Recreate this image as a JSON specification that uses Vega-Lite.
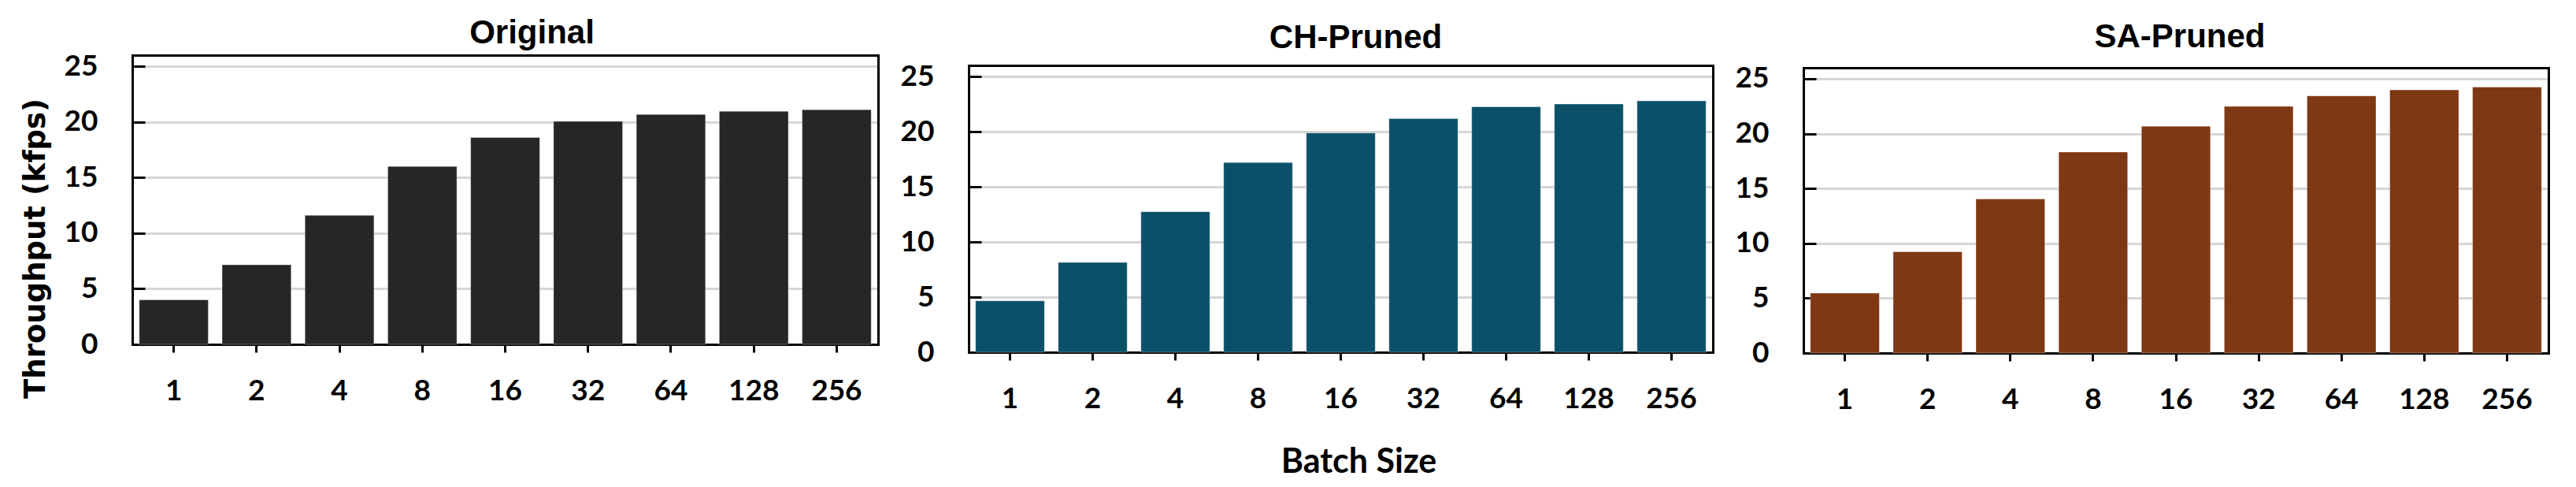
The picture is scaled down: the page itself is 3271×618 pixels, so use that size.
{
  "$schema": "https://vega.github.io/schema/vega-lite/v6.json",
  "background": "white",
  "padding": {"left": 26, "top": 21, "right": 10, "bottom": 6},
  "spacing": 28,
  "datasets": {
    "original": [
      {"batch": "1", "throughput": 4.0},
      {"batch": "2", "throughput": 7.15},
      {"batch": "4", "throughput": 11.6},
      {"batch": "8", "throughput": 16.0},
      {"batch": "16", "throughput": 18.6},
      {"batch": "32", "throughput": 20.05},
      {"batch": "64", "throughput": 20.67},
      {"batch": "128", "throughput": 20.95},
      {"batch": "256", "throughput": 21.1}
    ],
    "ch": [
      {"batch": "1", "throughput": 4.66},
      {"batch": "2", "throughput": 8.14},
      {"batch": "4", "throughput": 12.74},
      {"batch": "8", "throughput": 17.2},
      {"batch": "16", "throughput": 19.87},
      {"batch": "32", "throughput": 21.18},
      {"batch": "64", "throughput": 22.25},
      {"batch": "128", "throughput": 22.5},
      {"batch": "256", "throughput": 22.78}
    ],
    "sa": [
      {"batch": "1", "throughput": 5.46},
      {"batch": "2", "throughput": 9.23},
      {"batch": "4", "throughput": 14.04},
      {"batch": "8", "throughput": 18.32},
      {"batch": "16", "throughput": 20.67},
      {"batch": "32", "throughput": 22.48},
      {"batch": "64", "throughput": 23.44},
      {"batch": "128", "throughput": 23.98},
      {"batch": "256", "throughput": 24.24}
    ]
  },
  "config": {
    "view": {"stroke": null},
    "title": {"font": "Liberation Sans", "fontSize": 42, "fontWeight": "bold", "color": "black", "anchor": "middle", "frame": "group"},
    "axis": {
      "domainColor": "black", "domainWidth": 3, "domainCap": "square",
      "tickColor": "black", "tickWidth": 3,
      "labelFont": "Lato", "labelFontWeight": "bold", "labelFontSize": 37, "labelColor": "black",
      "titleColor": "black"
    },
    "axisBottom": {
      "labelAngle": 0, "tickSize": 10, "labelPadding": 31, "grid": false, "zindex": 1,
      "titleFont": "Lato", "titleFontWeight": "bold", "titleFontSize": 43, "titlePadding": 41
    },
    "axisTop": {"labels": false, "ticks": false, "grid": false, "title": null, "zindex": 1},
    "axisLeft": {
      "tickSize": -16, "grid": true, "gridColor": "#d6d6d6", "gridWidth": 3, "labelOverlap": false,
      "labelPadding": 60,
      "titleFont": "DejaVu Sans", "titleFontWeight": "bold", "titleFontSize": 37, "titlePadding": 17
    },
    "axisRight": {"labels": false, "ticks": false, "title": null, "grid": true, "gridColor": "#efefef", "gridWidth": 3}
  },
  "hconcat": [
    {
      "width": 947, "height": 367,
      "title": {"text": "Original", "offset": 1, "dx": 34},
      "data": {"name": "original"},
      "layer": [
        {
          "mark": {"type": "bar", "color": "#262626", "stroke": "white", "strokeWidth": 1, "strokeOpacity": 0.35},
          "encoding": {
            "x": {"field": "batch", "type": "ordinal", "sort": null, "scale": {"paddingInner": 0.167, "paddingOuter": 0.0835}, "axis": {"orient": "bottom", "title": null}},
            "y": {"field": "throughput", "type": "quantitative", "scale": {"domain": [0, 26], "nice": false, "range": [367, 0]}, "axis": {"orient": "left", "values": [0, 5, 10, 15, 20, 25], "title": "Throughput (kfps)", "titleY": 245}}
          }
        },
        {
          "mark": {"type": "bar", "opacity": 0},
          "encoding": {
            "x": {"field": "batch", "type": "ordinal", "sort": null, "axis": {"orient": "top", "offset": 0}},
            "y": {"field": "throughput", "type": "quantitative", "axis": {"orient": "right", "values": [1, 2, 3, 4, 6, 7, 8, 9, 11, 12, 13, 14, 16, 17, 18, 19, 21, 22, 23, 24]}}
          }
        }
      ]
    },
    {
      "width": 945, "height": 377,
      "title": {"text": "CH-Pruned", "offset": 0, "dx": 19},
      "data": {"name": "ch"},
      "layer": [
        {
          "mark": {"type": "bar", "color": "#0b5069", "stroke": "white", "strokeWidth": 1, "strokeOpacity": 0.35},
          "encoding": {
            "x": {"field": "batch", "type": "ordinal", "sort": null, "scale": {"paddingInner": 0.167, "paddingOuter": 0.0835}, "axis": {"orient": "bottom", "title": "Batch Size", "titleX": 495}},
            "y": {"field": "throughput", "type": "quantitative", "scale": {"domain": [0, 26], "nice": false, "range": [377, 13]}, "axis": {"orient": "left", "values": [0, 5, 10, 15, 20, 25], "title": null}}
          }
        },
        {
          "mark": {"type": "bar", "opacity": 0},
          "encoding": {
            "x": {"field": "batch", "type": "ordinal", "sort": null, "axis": {"orient": "top", "offset": -13}},
            "y": {"field": "throughput", "type": "quantitative", "axis": {"orient": "right", "values": [1, 2, 3, 4, 6, 7, 8, 9, 11, 12, 13, 14, 16, 17, 18, 19, 21, 22, 23, 24]}}
          }
        }
      ]
    },
    {
      "width": 946, "height": 378,
      "title": {"text": "SA-Pruned", "offset": 1, "dx": 5},
      "data": {"name": "sa"},
      "layer": [
        {
          "mark": {"type": "bar", "color": "#7f3814", "stroke": "white", "strokeWidth": 1, "strokeOpacity": 0.35},
          "encoding": {
            "x": {"field": "batch", "type": "ordinal", "sort": null, "scale": {"paddingInner": 0.167, "paddingOuter": 0.0835}, "axis": {"orient": "bottom", "title": null}},
            "y": {"field": "throughput", "type": "quantitative", "scale": {"domain": [0, 26], "nice": false, "range": [378, 16]}, "axis": {"orient": "left", "values": [0, 5, 10, 15, 20, 25], "title": null}}
          }
        },
        {
          "mark": {"type": "bar", "opacity": 0},
          "encoding": {
            "x": {"field": "batch", "type": "ordinal", "sort": null, "axis": {"orient": "top", "offset": -16}},
            "y": {"field": "throughput", "type": "quantitative", "axis": {"orient": "right", "values": [1, 2, 3, 4, 6, 7, 8, 9, 11, 12, 13, 14, 16, 17, 18, 19, 21, 22, 23, 24]}}
          }
        }
      ]
    }
  ]
}
